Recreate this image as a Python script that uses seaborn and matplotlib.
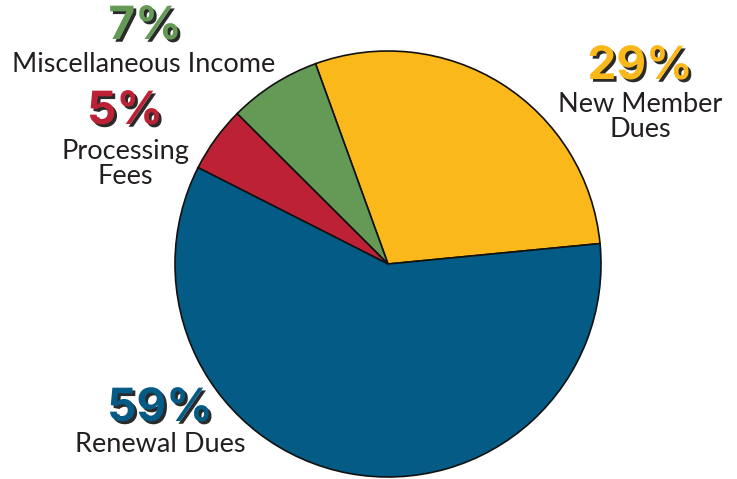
import matplotlib.pyplot as plt
import matplotlib.patheffects as pe
import seaborn as sns

# Revenue breakdown
categories = ['New Member Dues', 'Miscellaneous Income', 'Processing Fees', 'Renewal Dues']
shares = [29, 7, 5, 59]
pct_labels = ['29%', '7%', '5%', '59%']
label_texts = ['New Member\nDues', 'Miscellaneous Income', 'Processing\nFees', 'Renewal Dues']
colors = ['#FBB81A', '#659A56', '#BD2135', '#035B86']

sns.set_theme(style='white')
plt.rcParams['font.family'] = ['Lato', 'DejaVu Sans']

fig = plt.figure(figsize=(7.37, 4.79), dpi=100)
ax = fig.add_axes([0, 0, 1, 1])

ax.pie(shares, colors=colors, startangle=5.5, counterclock=True,
       center=(388, 479 - 264), radius=213,
       wedgeprops=dict(edgecolor='#111111', linewidth=1.2))

# pie() resets the limits, so set them afterwards
ax.set_xlim(0, 737)
ax.set_ylim(0, 479)
ax.set_aspect('auto')
ax.axis('off')

# label placement (pixels from top-left)
pct_pos = [(640, 67), (145, 27), (125, 112), (160, 409)]
txt_pos = [(640, 117), (144, 64), (125, 164), (160, 444)]
shadow = [pe.withSimplePatchShadow(offset=(2, -2), shadow_rgbFace='#2a2a2a', alpha=1)]

for p, t, c, (px, py), (tx, ty) in zip(pct_labels, label_texts, colors, pct_pos, txt_pos):
    ax.text(px, 479 - py, p, color=c, fontsize=33, fontweight='bold',
            family=['Inter', 'DejaVu Sans'],
            ha='center', va='center', path_effects=shadow)
    ax.text(tx, 479 - ty, t, color='#231f20', fontsize=19.5,
            ha='center', va='center', linespacing=1.0)

fig.savefig('out.png', dpi=100)
